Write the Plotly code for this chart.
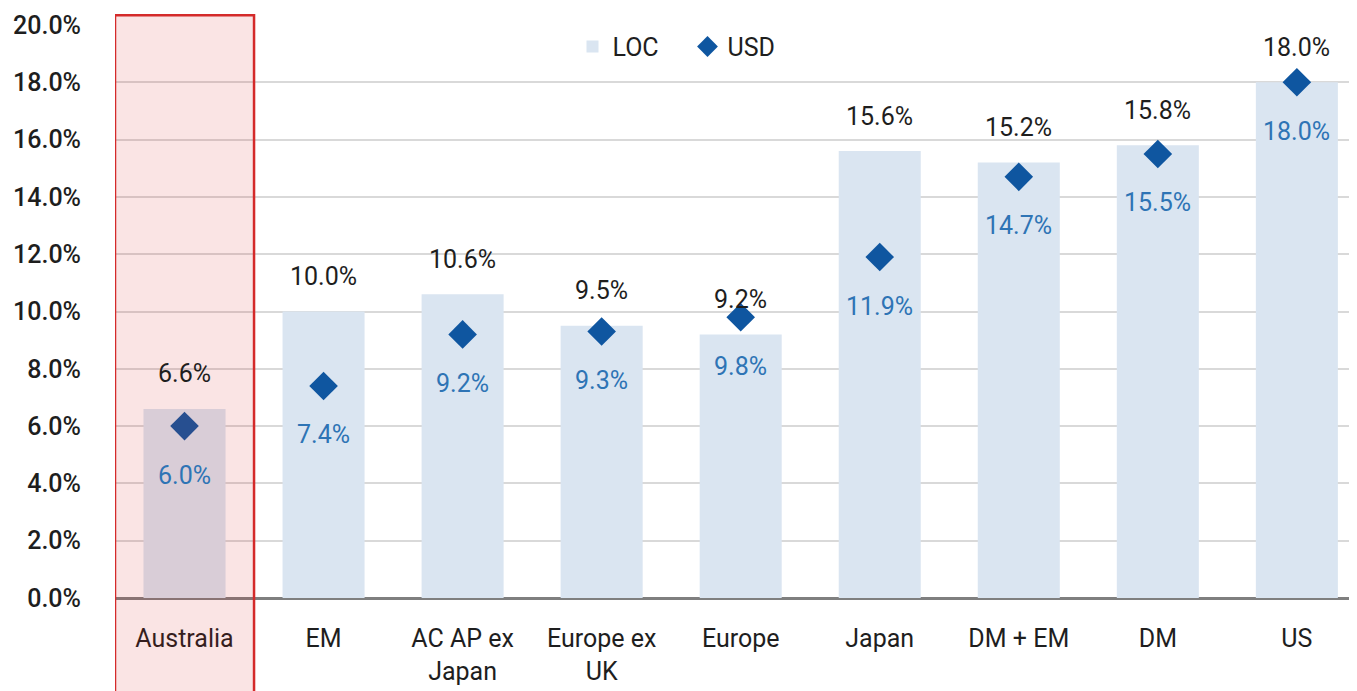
import plotly.graph_objects as go

categories = ["Australia", "EM", "AC AP ex<br>Japan", "Europe ex<br>UK", "Europe", "Japan", "DM + EM", "DM", "US"]
loc_values = [6.6, 10.0, 10.6, 9.5, 9.2, 15.6, 15.2, 15.8, 18.0]
usd_values = [6.0, 7.4, 9.2, 9.3, 9.8, 11.9, 14.7, 15.5, 18.0]
y_ticks = [0, 2, 4, 6, 8, 10, 12, 14, 16, 18, 20]
y_tick_labels = [f"{v:.1f}%" for v in y_ticks]

FONT = "Roboto"
DARK = "#1E1E1E"
BLUE_TXT = "#2E74B5"
BAR = "#DAE5F1"
MARK = "#0F56A0"
FS = 25

x = list(range(len(categories)))

fig = go.Figure()
fig.add_trace(go.Bar(x=x, y=loc_values, name="LOC", marker=dict(color=BAR, line=dict(width=0)),
                     width=0.59, hoverinfo="skip", legend="legend"))
fig.add_trace(go.Scatter(x=x, y=usd_values, name="USD", mode="markers", legend="legend2",
                         marker=dict(symbol="diamond", size=22, color=MARK, line=dict(width=0))))

for i, v in enumerate(loc_values):
    fig.add_annotation(x=i, y=v, text=f"{v:.1f}%", showarrow=False, xref="x", yref="y",
                       yanchor="middle", yshift=35, font=dict(family=FONT, size=FS, color=DARK))
for i, v in enumerate(usd_values):
    fig.add_annotation(x=i, y=v, text=f"{v:.1f}%", showarrow=False, xref="x", yref="y",
                       yanchor="middle", yshift=-49, font=dict(family=FONT, size=FS, color=BLUE_TXT))

fig.add_shape(type="rect", xref="x", yref="paper", x0=-0.5, x1=0.5, y0=-0.2, y1=1.017,
              fillcolor="rgba(210,30,30,0.12)", line=dict(color="#D42A2A", width=2.5), layer="above")

legend_common = dict(orientation="h", yanchor="middle", y=0.962, xanchor="left",
                     font=dict(family=FONT, size=FS, color=DARK),
                     bgcolor="rgba(0,0,0,0)", itemwidth=30)

fig.update_layout(
    width=1357, height=691,
    margin=dict(l=107, r=0, t=17, b=101, autoexpand=False),
    paper_bgcolor="white", plot_bgcolor="white",
    font=dict(family=FONT, size=FS, color=DARK),
    legend=dict(x=0.366, **legend_common),
    legend2=dict(x=0.458, **legend_common),
    showlegend=True,
)
fig.update_xaxes(range=[-0.5, 8.49], tickvals=x, ticktext=categories, showgrid=False,
                 ticks="outside", ticklen=18, tickcolor="rgba(0,0,0,0)", automargin=False,
                 tickfont=dict(family=FONT, size=FS, color=DARK), showline=False, zeroline=False)
fig.update_yaxes(range=[0, 20], tickvals=y_ticks, ticktext=y_tick_labels, showgrid=True,
                 gridcolor="#D9D9D9", gridwidth=1.5, zeroline=True, zerolinecolor="#7F7F7F",
                 zerolinewidth=2.5, ticks="outside", ticklen=28, tickcolor="rgba(0,0,0,0)",
                 automargin=False,
                 tickfont=dict(family=FONT, size=FS, color=DARK, weight=500), showline=False)

fig.write_html("out.html")
